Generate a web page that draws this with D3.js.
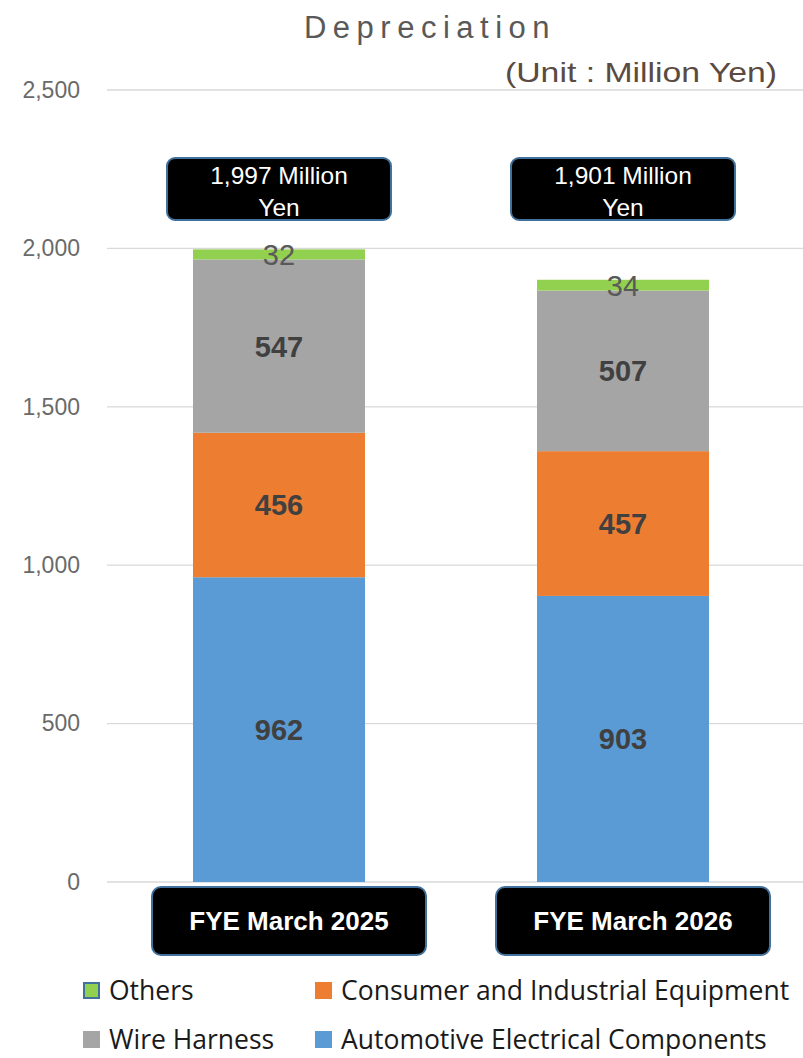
<!DOCTYPE html>
<html><head><meta charset="utf-8">
<script src="https://cdn.jsdelivr.net/npm/d3@7"></script>
<style>body{margin:0;background:#fff}svg{display:block}</style>
</head><body>
<svg id="c" width="803" height="1058"></svg>
<script>
const categories = ["FYE March 2025", "FYE March 2026"];
const seriesNames = ["Automotive Electrical Components", "Consumer and Industrial Equipment", "Wire Harness", "Others"];
const automotive = [962, 903];
const consumer = [456, 457];
const wireHarness = [547, 507];
const others = [32, 34];
const totals = [1997, 1901];
const totalLabels = ["1,997 Million", "1,901 Million"];
const yTicks = [0, 500, 1000, 1500, 2000, 2500];
const colors = ["#5b9bd5", "#ed7d31", "#a5a5a5", "#92d050"];

const svg = d3.select("#c");
const x = d3.scaleBand().domain(categories).range([107, 795]).paddingInner(0.5).paddingOuter(0.25);
const y = d3.scaleLinear().domain([0, 2500]).range([882, 90]);

// grid
svg.append("g").selectAll("line").data(yTicks).join("line")
  .attr("x1", 107).attr("x2", 803)
  .attr("y1", d => y(d)).attr("y2", d => y(d))
  .attr("stroke", "#d9d9d9").attr("stroke-width", 1.3);

// y axis labels
const yAxis = d3.axisLeft(y).tickValues(yTicks).tickSize(0).tickPadding(0).tickFormat(d3.format(","));
const ga = svg.append("g").attr("transform", "translate(80,0)").call(yAxis);
ga.select(".domain").remove();
ga.selectAll("text").attr("font-family", "Liberation Sans, Arial, sans-serif").attr("font-size", 23)
  .attr("fill", "#6a6a6a").attr("x", 0);

// stacked data
const rows = categories.map((c, i) => ({cat: c, [seriesNames[0]]: automotive[i], [seriesNames[1]]: consumer[i], [seriesNames[2]]: wireHarness[i], [seriesNames[3]]: others[i]}));
const stacked = d3.stack().keys(seriesNames)(rows);

stacked.forEach((s, si) => {
  const g = svg.append("g");
  g.selectAll("rect").data(s).join("rect")
    .attr("x", d => x(d.data.cat)).attr("width", x.bandwidth())
    .attr("y", d => y(d[1])).attr("height", d => y(d[0]) - y(d[1]))
    .attr("fill", colors[si]);
  g.selectAll("text").data(s).join("text")
    .attr("x", d => x(d.data.cat) + x.bandwidth() / 2)
    .attr("y", d => y((d[0] + d[1]) / 2))
    .attr("dy", "0.36em")
    .attr("text-anchor", "middle")
    .attr("font-family", "Liberation Sans, Arial, sans-serif")
    .attr("font-size", 29)
    .attr("font-weight", si === 3 ? "normal" : "bold")
    .attr("fill", si === 3 ? "#595959" : "#404040")
    .text(d => d[1] - d[0]);
});

// total boxes
const tb = svg.append("g").selectAll("g").data(categories).join("g");
tb.append("rect")
  .attr("x", d => x(d) + x.bandwidth() / 2 - 112).attr("y", 158)
  .attr("width", 224).attr("height", 62).attr("rx", 8)
  .attr("fill", "#000").attr("stroke", "#41719c").attr("stroke-width", 2);
tb.append("text")
  .attr("x", d => x(d) + x.bandwidth() / 2).attr("y", 184)
  .attr("text-anchor", "middle").attr("font-family", "Liberation Sans, Arial, sans-serif")
  .attr("font-size", 24.5).attr("fill", "#fff")
  .text((d, i) => totalLabels[i]);
tb.append("text")
  .attr("x", d => x(d) + x.bandwidth() / 2).attr("y", 216)
  .attr("text-anchor", "middle").attr("font-family", "Liberation Sans, Arial, sans-serif")
  .attr("font-size", 24.5).attr("fill", "#fff")
  .text("Yen");

// category boxes
const cb = svg.append("g").selectAll("g").data(categories).join("g");
cb.append("rect")
  .attr("x", d => x(d) + x.bandwidth() / 2 - 127).attr("y", 887)
  .attr("width", 274).attr("height", 68).attr("rx", 9)
  .attr("fill", "#000").attr("stroke", "#41719c").attr("stroke-width", 2);
cb.append("text")
  .attr("x", d => x(d) + x.bandwidth() / 2 + 10).attr("y", 921).attr("dy", "0.36em")
  .attr("text-anchor", "middle").attr("font-family", "Liberation Sans, Arial, sans-serif")
  .attr("font-size", 26).attr("font-weight", "bold").attr("fill", "#fff")
  .text(d => d);

// title
svg.append("text").attr("x", 430).attr("y", 38).attr("text-anchor", "middle")
  .attr("font-family", "Liberation Sans, Arial, sans-serif").attr("font-size", 31)
  .attr("letter-spacing", 6.5).attr("fill", "#595959").text("Depreciation");
svg.append("text").attr("x", 505).attr("y", 82)
  .attr("font-family", "Liberation Sans, Arial, sans-serif").attr("font-size", 28)
  .attr("textLength", 272).attr("lengthAdjust", "spacingAndGlyphs")
  .attr("fill", "#5b4a42").text("(Unit : Million Yen)");

// legend
const legendItems = [
  {name: "Others", color: colors[3], lx: 83, ly: 990, border: true},
  {name: "Consumer and Industrial Equipment", color: colors[1], lx: 315, ly: 990},
  {name: "Wire Harness", color: colors[2], lx: 83, ly: 1039},
  {name: "Automotive Electrical Components", color: colors[0], lx: 315, ly: 1039}
];
const lg = svg.append("g").selectAll("g").data(legendItems).join("g");
lg.append("rect").attr("x", d => d.lx + (d.border ? 1 : 0)).attr("y", d => d.ly - 8 + (d.border ? 1 : 0))
  .attr("width", d => d.border ? 15 : 17).attr("height", d => d.border ? 15 : 17)
  .attr("fill", d => d.color).attr("stroke", d => d.border ? "#41719c" : "none").attr("stroke-width", 2);
lg.append("text").attr("x", d => d.lx + 26).attr("y", d => d.ly).attr("dy", "0.36em")
  .attr("font-family", "Open Sans, Noto Sans, sans-serif").attr("font-size", 26.5)
  .attr("fill", "#1a1a1a").text(d => d.name);
</script>
</body></html>
